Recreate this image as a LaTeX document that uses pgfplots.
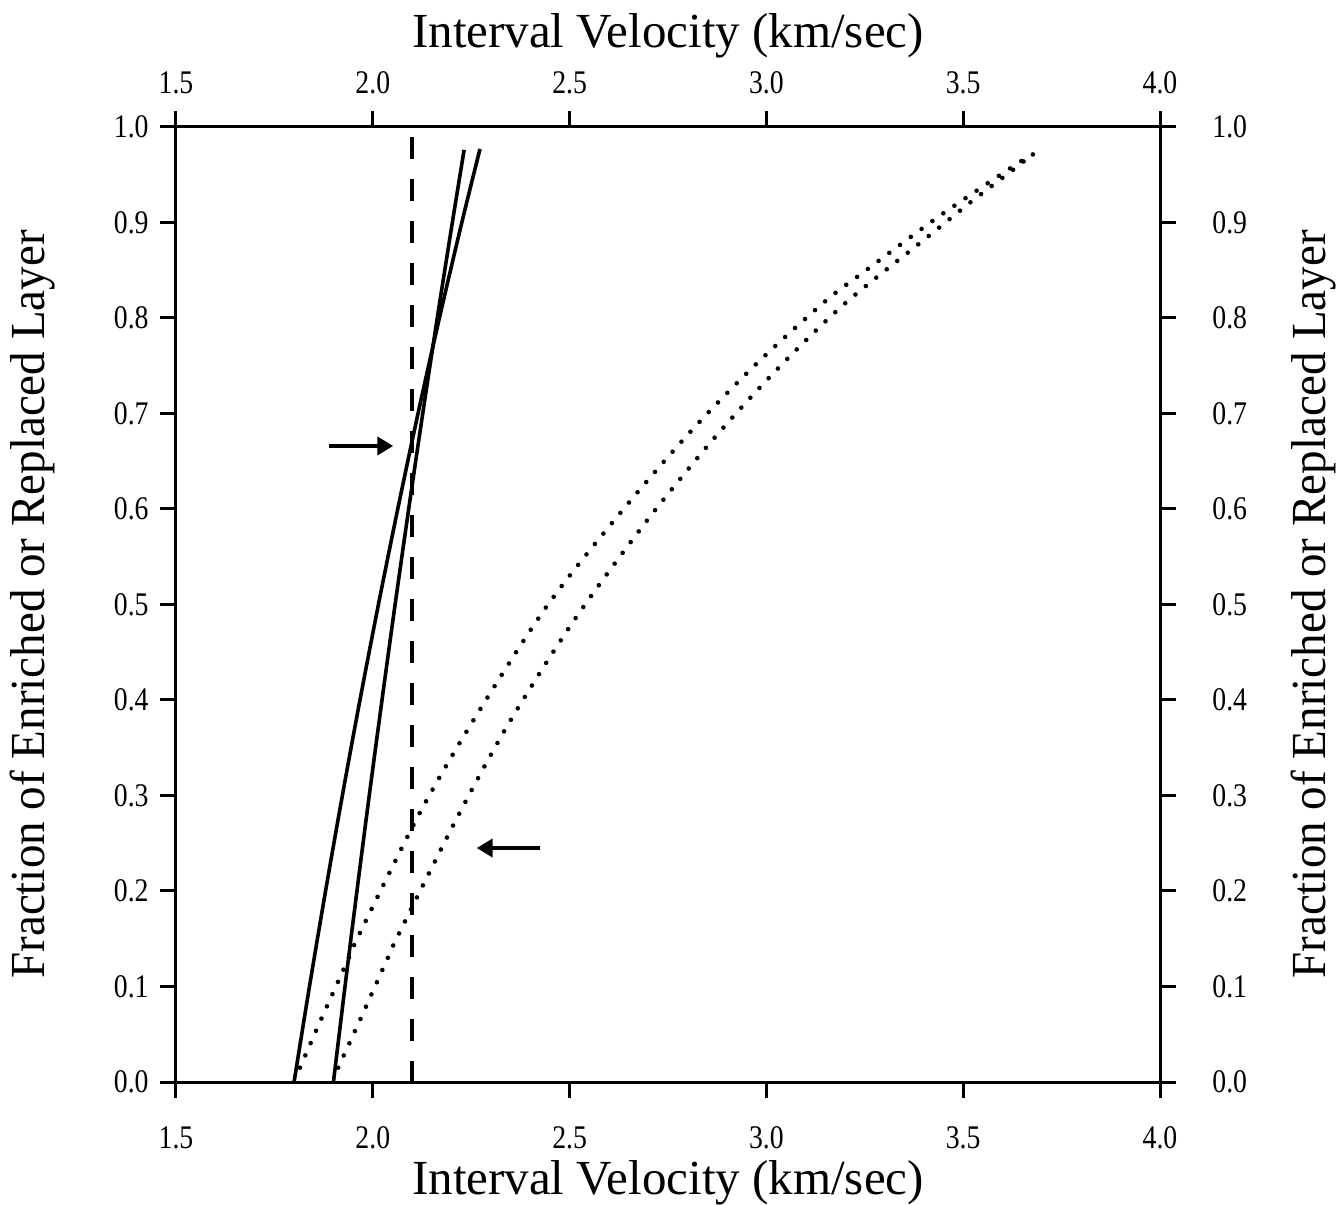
\documentclass[border=0pt]{standalone}
\usepackage{fontspec}
\setmainfont{Liberation Serif}
\newfontfamily\tickfont[FakeStretch=0.84]{Liberation Serif}
\newfontfamily\sidefont[FakeStretch=0.96]{Liberation Serif}
\usepackage{pgfplots}
\pgfplotsset{compat=1.18}
\usetikzlibrary{arrows.meta}

\newcommand{\ticksize}{\tickfont\fontsize{16.5}{19}\selectfont}
\newcommand{\labsize}{\fontsize{24.5}{28}\selectfont}
\newcommand{\sidesize}{\sidefont\fontsize{24.5}{28}\selectfont}

\pgfplotsset{
  velframe/.style={
    at={(0,0)}, anchor=south west,
    scale only axis, width=492pt, height=477.5pt,
    xmin=1.5, xmax=4.0, ymin=0, ymax=1.0,
    xtick={1.5,2.0,2.5,3.0,3.5,4.0},
    ytick={0,0.1,0.2,0.3,0.4,0.5,0.6,0.7,0.8,0.9,1.0},
    /pgf/number format/.cd, fixed, fixed zerofill, precision=1,
    assume math mode=true, /pgfplots/.cd,
  },
}

\begin{document}
\begin{tikzpicture}
% frame, outward ticks, lower and left labels, and the curves
\begin{axis}[
  velframe,
  axis line style={line width=1.5pt},
  every tick/.style={black, line width=1.5pt},
  tick align=outside, major tick length=8pt,
  xticklabel style={font=\ticksize, inner sep=0pt, yshift=-14pt},
  yticklabel style={font=\ticksize, inner sep=0pt, xshift=-5.5pt},
  clip=false,
  xlabel={Interval Velocity (km/sec)},
  ylabel={Fraction of Enriched or Replaced Layer},
  every axis x label/.style={at={([yshift=-56pt]axis description cs:0.5,0)}, anchor=base, inner sep=0pt, font=\labsize},
  every axis y label/.style={at={([xshift=-65.5pt]axis description cs:0,0.5)}, anchor=base, rotate=90, inner sep=0pt, font=\sidesize},
]
% solid mixing lines
\addplot[black, line width=1.8pt, smooth] coordinates {
  (1.8000,0) (1.8391,0.1) (1.8800,0.2) (1.9227,0.3) (1.9674,0.4) (2.0143,0.5)
  (2.0634,0.6) (2.1149,0.7) (2.1692,0.8) (2.2262,0.9) (2.2723,0.977)
};
\addplot[black, line width=1.8pt, smooth] coordinates {
  (1.9000,0) (1.9294,0.1) (1.9597,0.2) (1.9910,0.3) (2.0234,0.4) (2.0567,0.5)
  (2.0912,0.6) (2.1269,0.7) (2.1638,0.8) (2.2021,0.9) (2.2320,0.976)
};
% dotted curves
\addplot[black, line width=2.3pt, line cap=round, dash pattern=on 0pt off 6.7pt, smooth] coordinates {
  (1.815,0.015) (1.868,0.065) (1.938,0.129) (1.966,0.155) (2.117,0.280) (2.253,0.377)
  (2.440,0.497) (2.627,0.595) (2.805,0.680) (2.972,0.751) (3.148,0.817) (3.250,0.849)
  (3.420,0.901) (3.533,0.933) (3.650,0.965) (3.681,0.972)
};
\addplot[black, line width=2.3pt, line cap=round, dash pattern=on 0pt off 6.7pt, smooth] coordinates {
  (1.912,0.015) (1.9675,0.065) (2.037,0.129) (2.066,0.155) (2.217,0.279) (2.349,0.378)
  (2.514,0.485) (2.695,0.587) (2.867,0.674) (3.029,0.747) (3.199,0.815) (3.410,0.885)
  (3.518,0.921) (3.626,0.955) (3.672,0.970)
};
% dashed reference velocity
\addplot[black, line width=1.8pt, dash pattern=on 11pt off 10pt] coordinates {
  (2.1,0.99) (2.1,0)
};
% pointers
\draw[line width=2pt, -{Triangle[length=8pt,width=9pt]}] (axis cs:1.889,0.666) -- (axis cs:2.052,0.666);
\draw[line width=2pt, -{Triangle[length=8pt,width=9pt]}] (axis cs:2.425,0.245) -- (axis cs:2.264,0.245);
\end{axis}
% upper and right labels
\begin{axis}[
  velframe,
  xticklabel pos=right, yticklabel pos=right,
  axis line style={draw=none},
  every tick/.style={draw=none},
  major tick length=0pt,
  xticklabel style={font=\ticksize, inner sep=0pt, yshift=16.5pt},
  yticklabel style={font=\ticksize, inner sep=0pt, xshift=26pt},
  xlabel={Interval Velocity (km/sec)},
  ylabel={Fraction of Enriched or Replaced Layer},
  every axis x label/.style={at={([yshift=39.5pt]axis description cs:0.5,1)}, anchor=base, inner sep=0pt, font=\labsize},
  every axis y label/.style={at={([xshift=82.5pt]axis description cs:1,0.5)}, anchor=base, rotate=90, inner sep=0pt, font=\sidesize},
]
\end{axis}
\pgfresetboundingbox
\useasboundingbox (-88pt,-61.5pt) rectangle (581.5pt,541pt);
\end{tikzpicture}
\end{document}
